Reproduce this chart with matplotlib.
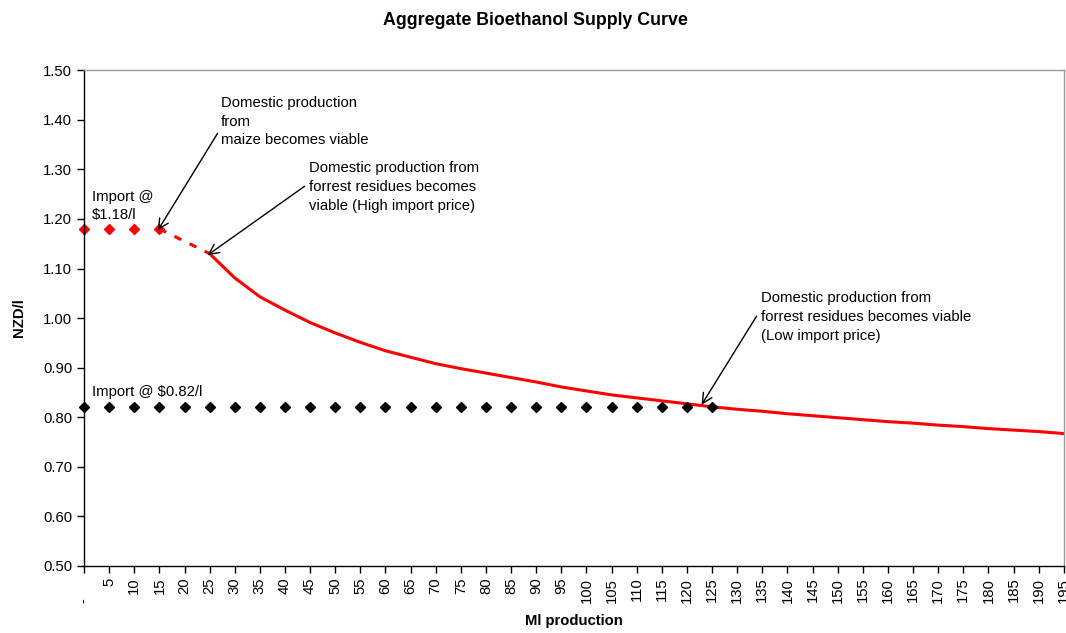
import numpy as np
import matplotlib
matplotlib.use("Agg")
import matplotlib.pyplot as plt

plt.rcParams["font.family"] = ["Liberation Sans", "DejaVu Sans"]

# categories on the production axis (Ml), first one shown as "-"
production = list(range(0, 200, 5))
tick_labels = ["-     "] + [str(v) for v in production[1:]]

# imported ethanol at the high and low price
import_high_x = [0, 5, 10, 15]
import_high = [1.18, 1.18, 1.18, 1.18]
import_low_x = list(range(0, 130, 5))
import_low = [0.82] * len(import_low_x)

# maize step (dashed) and forest residue supply curve (solid)
maize_x = [15, 20, 25]
maize = [1.18, 1.155, 1.13]
residue_x = list(range(25, 200, 5))
residue = [1.130, 1.081, 1.043, 1.016, 0.991, 0.970, 0.951, 0.934, 0.921, 0.908,
           0.898, 0.889, 0.880, 0.871, 0.861, 0.853, 0.845, 0.839, 0.833, 0.827,
           0.821, 0.816, 0.812, 0.807, 0.803, 0.799, 0.795, 0.791, 0.788, 0.784,
           0.781, 0.777, 0.774, 0.771, 0.767]


def to_pos(xs):
    return [production.index(x) for x in xs]


FS = 10.7

fig = plt.figure(figsize=(10.66, 6.33), dpi=100)
ax = fig.add_axes([0.0788, 0.106, 0.9192, 0.783])

ax.plot(to_pos(maize_x), maize, color="red", lw=2.2, ls=(0, (2.5, 3)))
ax.plot(to_pos(residue_x), residue, color="red", lw=2.2)
ax.plot(to_pos(import_high_x), import_high, ls="none", marker="D",
        ms=5, color="red", clip_on=False)
ax.plot(to_pos(import_low_x), import_low, ls="none", marker="D",
        ms=5, color="black", clip_on=False)

ax.set_xlim(0, len(production) - 1)
ax.set_ylim(0.5, 1.5)
ax.set_xticks(range(len(production)))
ax.set_xticklabels(tick_labels, rotation=90, fontsize=FS)
ax.set_yticks(np.arange(0.5, 1.51, 0.1))
ax.set_yticklabels([f"{v:.2f}" for v in np.arange(0.5, 1.51, 0.1)], fontsize=FS)
ax.tick_params(direction="out", length=5, width=1)

for side in ["top", "right"]:
    ax.spines[side].set_color("#999999")
    ax.spines[side].set_linewidth(1)
for side in ["left", "bottom"]:
    ax.spines[side].set_linewidth(1)

fig.text(0.502, 0.968, "Aggregate Bioethanol Supply Curve", fontsize=12.8,
         fontweight="bold", ha="center", va="center")
ax.set_xlabel("Ml production", fontsize=FS, fontweight="bold", labelpad=8)
ax.set_ylabel("NZD/l", fontsize=FS, fontweight="bold", labelpad=12)

arrow = dict(arrowstyle="->", color="black", lw=1, shrinkA=0, shrinkB=0,
             mutation_scale=18)
LS = 1.42

ax.text(0.32, 1.193, "Import @\n$1.18/l", fontsize=FS, va="bottom",
        linespacing=LS)
ax.text(0.32, 0.837, "Import @ $0.82/l", fontsize=FS, va="bottom")

ax.text(5.44, 1.448, "Domestic production\nfrom\nmaize becomes viable",
        fontsize=FS, va="top", linespacing=LS)
ax.annotate("", xy=(2.94, 1.177), xytext=(5.32, 1.373), arrowprops=arrow)

ax.text(8.94, 1.316,
        "Domestic production from\nforrest residues becomes\nviable (High import price)",
        fontsize=FS, va="top", linespacing=LS)
ax.annotate("", xy=(4.92, 1.127), xytext=(8.78, 1.266), arrowprops=arrow)

ax.text(26.93, 1.054,
        "Domestic production from\nforrest residues becomes viable\n(Low import price)",
        fontsize=FS, va="top", linespacing=LS)
ax.annotate("", xy=(24.58, 0.825), xytext=(26.77, 1.004), arrowprops=arrow)

fig.savefig("out.png", dpi=100)
